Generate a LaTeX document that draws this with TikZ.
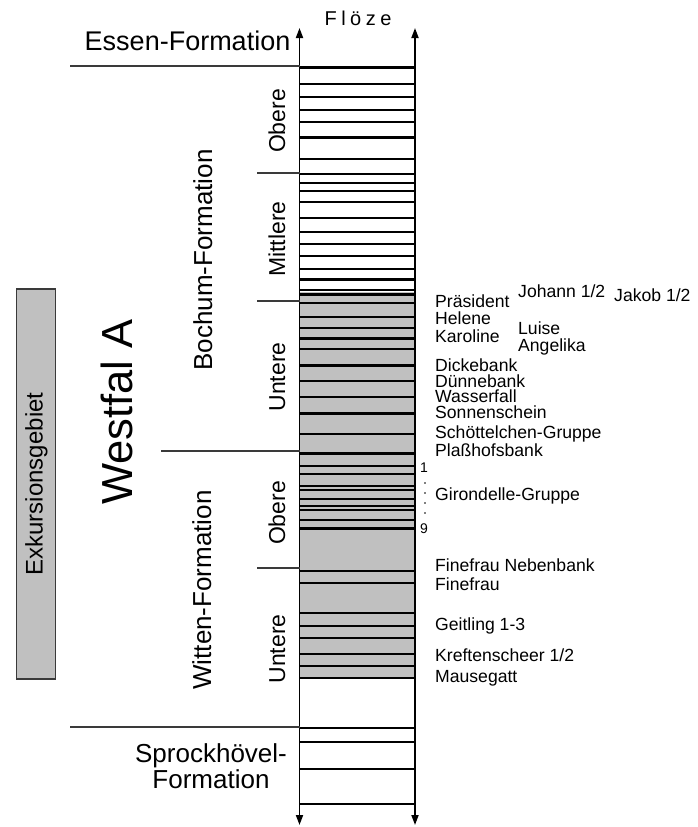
\documentclass[tikz,border=0pt]{standalone}
\usepackage{fontspec}
\setmainfont{Liberation Sans}
\usetikzlibrary{arrows.meta}
\definecolor{coalgray}{HTML}{C0C0C0}
\definecolor{rulegray}{HTML}{3A3A3A}
\begin{document}
\begin{tikzpicture}[x=1pt,y=-1pt,
  seam/.style={line width=2.5pt, black},
  bound/.style={line width=1.3pt, rulegray},
  axis/.style={line width=1.8pt, black, {Triangle[length=10pt,width=7pt]}-{Triangle[length=10pt,width=7pt]}},
  lbl/.style={font=\fontsize{17.6}{18}\selectfont, anchor=base west, inner sep=0pt},
  num/.style={font=\fontsize{14}{15}\selectfont, anchor=base west, inner sep=0pt},
  formation/.style={font=\fontsize{26}{27}\selectfont, inner sep=0pt},
  sub/.style={font=\fontsize{23}{24}\selectfont, rotate=90, anchor=base, inner sep=0pt},
]
\useasboundingbox (0,0) rectangle (697,827);

% coal-bearing (grey) part of the column
\fill[coalgray] (299.5,292) rectangle (415,679);

% seams
\foreach \y in {67.5,84,97,110,122,137.5,159,174,183,191,202,218,232,244,256,269,279.5,290,
                294.5,303,317,328,338.5,349,365.5,381,397,413.5,434,453.5,
                466,474,486,490,499,506,510,520,528.5,
                571,583,613,626,638,654,666,678,
                728,742,769,804}
  \draw[seam] (299.5,\y) -- (415,\y);

% column axes
\coordinate (lt) at (299.5,28);
\coordinate (lb) at (299.5,825);
\coordinate (rt) at (415,28);
\coordinate (rb) at (415,825);
\draw[axis] (lb) -- (lt);
\draw[axis] (rb) -- (rt);

% boundaries
\coordinate (b1) at (70,66);   \coordinate (b1e) at (299.5,66);
\coordinate (b2) at (257,173); \coordinate (b2e) at (299.5,173);
\coordinate (b3) at (257,301); \coordinate (b3e) at (299.5,301);
\coordinate (b4) at (161,451); \coordinate (b4e) at (299.5,451);
\coordinate (b5) at (257,568); \coordinate (b5e) at (299.5,568);
\coordinate (b6) at (70,727);  \coordinate (b6e) at (299.5,727);
\draw[bound] (b1) -- (b1e);
\draw[bound] (b2) -- (b2e);
\draw[bound] (b3) -- (b3e);
\draw[bound] (b4) -- (b4e);
\draw[bound] (b5) -- (b5e);
\draw[bound] (b6) -- (b6e);

% header
\node[font=\fontsize{20}{21}\selectfont, inner sep=0pt, anchor=base] (floeze) at (358,25.5)
  {F\kern4.5pt l\kern4.5pt ö\kern4.5pt z\kern4.5pt e};

% formations
\node[font=\fontsize{27}{28}\selectfont, inner sep=0pt, anchor=base east] (essen) at (290.5,50.7) {Essen-Formation};
\node[formation, anchor=base] (sprock1) at (211,762) {Sprockhövel-};
\node[formation, anchor=base] (sprock2) at (211,788.5) {Formation};
\node[formation, rotate=90, anchor=base] (bochum) at (212,260) {Bochum-Formation};
\node[formation, rotate=90, anchor=base] (witten) at (211,590) {Witten-Formation};
\node[font=\fontsize{43.5}{44}\selectfont, inner sep=0pt, rotate=90, anchor=base] (westfal) at (132,412) {Westfal A};

% sub-units
\node[sub] (bo) at (285,121) {Obere};
\node[sub] (bm) at (285,239) {Mittlere};
\node[sub] (bu) at (285,377) {Untere};
\node[sub] (wo) at (285,513) {Obere};
\node[sub] (wu) at (285,649) {Untere};

% excursion area
\draw[fill=coalgray, draw=rulegray, line width=1.5pt] (16.5,289) rectangle (55.5,679);
\node[font=\fontsize{24}{25}\selectfont, inner sep=0pt, rotate=90, anchor=base] (exk) at (42.7,484) {Exkursionsgebiet};

% seam names
\node[lbl] (johann) at (518,297.5) {Johann 1/2};
\node[lbl] (jakob) at (614,301.7) {Jakob 1/2};
\node[lbl] (praes) at (435,307.5) {Präsident};
\node[lbl] (helene) at (435,324) {Helene};
\node[lbl] (luise) at (518,334.5) {Luise};
\node[lbl] (karoline) at (435,342.7) {Karoline};
\node[lbl] (angelika) at (518,351.5) {Angelika};
\node[lbl] (dicke) at (435,371.5) {Dickebank};
\node[lbl] (duenne) at (435,387) {Dünnebank};
\node[lbl] (wasser) at (435,402.7) {Wasserfall};
\node[lbl] (sonnen) at (435,418.5) {Sonnenschein};
\node[lbl] (schoett) at (435,438.3) {Schöttelchen-Gruppe};
\node[lbl] (plass) at (435,456.7) {Plaßhofsbank};
\node[num] (one) at (420,472.7) {1};
\foreach \y in {483,493,503,513} \fill (425,\y) circle (0.9pt);
\node[num] (nine) at (420,533.3) {9};
\node[lbl] (giron) at (435,500) {Girondelle-Gruppe};
\node[lbl] (finenb) at (435,571.7) {Finefrau Nebenbank};
\node[lbl] (fine) at (435,590) {Finefrau};
\node[lbl] (geit) at (435,630) {Geitling 1-3};
\node[lbl] (kreft) at (435,661.7) {Kreftenscheer 1/2};
\node[lbl] (mause) at (435,682.7) {Mausegatt};
\end{tikzpicture}
\end{document}
